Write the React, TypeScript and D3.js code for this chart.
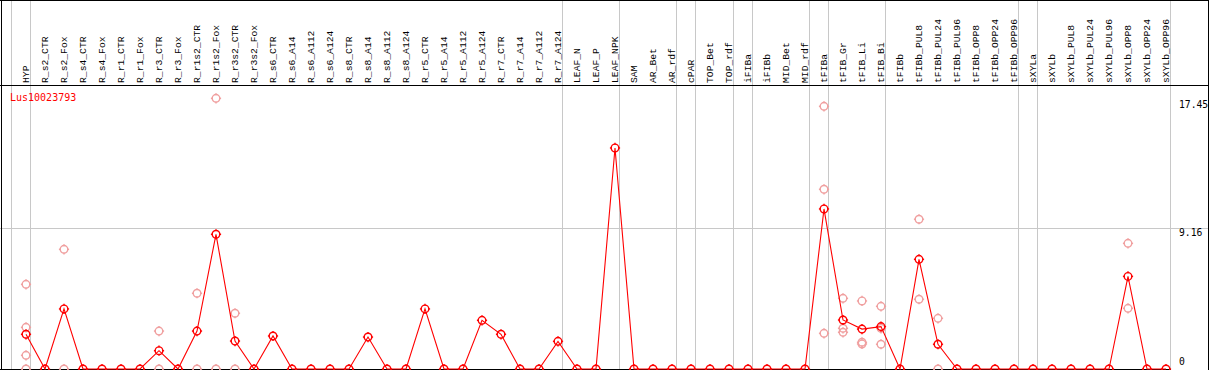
import React from "react";
import * as d3 from "d3";

const categories: string[] = [
  "HYP", "R_s2_CTR", "R_s2_Fox", "R_s4_CTR", "R_s4_Fox", "R_r1_CTR", "R_r1_Fox", "R_r3_CTR", "R_r3_Fox",
  "R_r1s2_CTR", "R_r1s2_Fox", "R_r3s2_CTR", "R_r3s2_Fox", "R_s6_CTR", "R_s6_A14", "R_s6_A112", "R_s6_A124",
  "R_s8_CTR", "R_s8_A14", "R_s8_A112", "R_s8_A124", "R_r5_CTR", "R_r5_A14", "R_r5_A112", "R_r5_A124",
  "R_r7_CTR", "R_r7_A14", "R_r7_A112", "R_r7_A124", "LEAF_N", "LEAF_P", "LEAF_NPK", "SAM", "AR_Bet", "AR_rdf",
  "cPAR", "TOP_Bet", "TOP_rdf", "iFIBa", "iFIBb", "MID_Bet", "MID_rdf", "tFIBa", "tFIB_Gr", "tFIB_Li", "tFIB_Bi",
  "tFIBb", "tFIBb_PUL8", "tFIBb_PUL24", "tFIBb_PUL96", "tFIBb_OPP8", "tFIBb_OPP24", "tFIBb_OPP96",
  "sXYLa", "sXYLb", "sXYLb_PUL8", "sXYLb_PUL24", "sXYLb_PUL96", "sXYLb_OPP8", "sXYLb_OPP24", "sXYLb_OPP96",
];

const meanValues: number[] = [
  2.26, 0, 3.91, 0, 0, 0, 0, 1.19, 0, 2.47, 8.77, 1.82, 0, 2.15, 0, 0, 0, 0, 2.08, 0, 0, 3.91, 0, 0, 3.17,
  2.26, 0, 0, 1.8, 0, 0, 14.39, 0, 0, 0, 0, 0, 0, 0, 0, 0, 0, 10.42, 3.19, 2.6, 2.76, 0, 7.14, 1.61,
  0, 0, 0, 0, 0, 0, 0, 0, 0, 6.03, 0, 0,
];

const replicateNames: string[] = [
  "HYP", "R_s2_Fox", "R_r3_CTR", "R_r1s2_CTR", "R_r1s2_Fox", "R_r3s2_CTR", "tFIBa", "tFIB_Gr",
  "tFIB_Li", "tFIB_Bi", "tFIBb_PUL8", "tFIBb_PUL24", "sXYLb_OPP8",
];
const replicateValues: number[][] = [
  [5.51, 2.71, 0.89, 0], [7.79, 0], [2.47, 0], [4.93, 0], [17.62, 0], [3.63, 0], [17.1, 11.7, 2.32],
  [4.6, 2.65, 2.39], [4.43, 1.74, 1.63], [4.08, 2.65, 1.61], [9.75, 4.54], [3.3, 0], [8.18, 3.95],
];

// group separators drawn after these category indices
const separatorsAfter: number[] = [-1, 0, 28, 31, 34, 35, 37, 38, 41, 42, 45, 52, 53, 60];
const yTicks: number[] = [0, 9.16, 17.45];
const geneId = "Lus10023793";

const W = 1209;
const H = 370;
const FONT = "'DejaVu Sans Mono', monospace";
const LABEL_FONT = "'Liberation Mono', 'DejaVu Sans Mono', monospace";

function Marker({ cx, cy, color }: { cx: number; cy: number; color: string }) {
  const r = 3.8;
  return (
    <g stroke={color} fill="none" strokeWidth={1.4}>
      <circle cx={cx} cy={cy} r={r} />
      <line x1={cx} x2={cx} y1={cy - r - 1.3} y2={cy - r + 0.6} />
      <line x1={cx} x2={cx} y1={cy + r - 0.6} y2={cy + r + 1.3} />
      <line x1={cx - r - 1.3} x2={cx - r + 0.6} y1={cy} y2={cy} />
      <line x1={cx + r - 0.6} x2={cx + r + 1.3} y1={cy} y2={cy} />
    </g>
  );
}

export default function App() {
  const x = d3.scaleLinear().domain([0, categories.length - 1]).range([26, 1166]);
  const y = d3.scaleLinear().domain([0, 9.16]).range([369, 228.3]);
  const line = d3
    .line<number>()
    .x((_, i) => x(i))
    .y((d) => y(d));

  const pale: { cx: number; cy: number }[] = [];
  replicateNames.forEach((name, k) => {
    const i = categories.indexOf(name);
    replicateValues[k].forEach((v) => pale.push({ cx: x(i), cy: y(v) }));
  });

  return (
    <svg
      width={W}
      height={H}
      style={{ position: "absolute", left: 0, top: 0, background: "#fff" }}
    >
      <rect x={0} y={0} width={W} height={H} fill="#fff" />
      <g shapeRendering="crispEdges">
        {separatorsAfter.map((i) => (
          <line key={"s" + i} x1={x(i) + 4.7} x2={x(i) + 4.7} y1={0} y2={H} stroke="#c8c8c8" strokeWidth={1} />
        ))}
        <line x1={0} x2={W} y1={y(9.16)} y2={y(9.16)} stroke="#c8c8c8" strokeWidth={1} />
        <line x1={0} x2={W} y1={0.5} y2={0.5} stroke="#000" />
        <line x1={0} x2={W} y1={85.5} y2={85.5} stroke="#000" />
        <line x1={0} x2={1171} y1={369.5} y2={369.5} stroke="#000" />
        <line x1={1.5} x2={1.5} y1={0} y2={H} stroke="#000" />
        <line x1={W - 0.5} x2={W - 0.5} y1={0} y2={H} stroke="#000" />
      </g>
      {categories.map((c, i) => (
        <text
          key={c}
          transform={`translate(${Math.round(x(i)) + 3},83) rotate(-90)`}
          fontFamily={LABEL_FONT}
          fontSize={9.7}
          fill="#000"
        >
          {c}
        </text>
      ))}
      <text x={10} y={100.5} fontFamily={FONT} fontSize={10} fill="#ff0000">
        {geneId}
      </text>
      {yTicks.map((t) => (
        <text
          key={t}
          x={1179}
          y={t === 0 ? y(t) - 4 : y(t) + 7.5}
          fontFamily={FONT}
          fontSize={9.7}
          fill="#000"
        >
          {t === 0 ? "0" : t.toFixed(2)}
        </text>
      ))}
      <g>
        {pale.map((p, k) => (
          <Marker key={"p" + k} cx={p.cx} cy={p.cy} color="#f0a0a0" />
        ))}
        <path d={line(meanValues) || ""} fill="none" stroke="#ff0000" strokeWidth={1.1} />
        {meanValues.map((v, i) => (
          <Marker key={"m" + i} cx={x(i)} cy={y(v)} color="#ff0000" />
        ))}
      </g>
    </svg>
  );
}
